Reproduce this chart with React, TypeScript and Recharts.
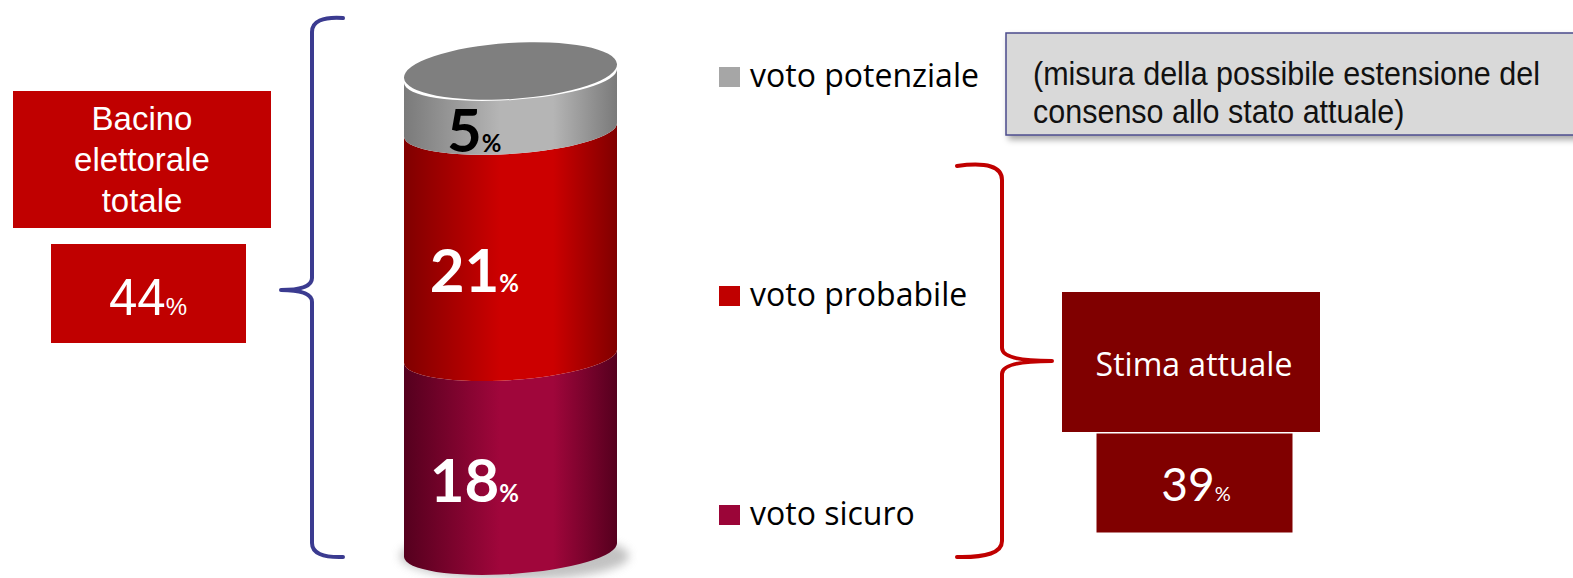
import * as React from "react";
import { Bar, BarChart, LabelList, XAxis, YAxis } from "recharts";

// valori (percentuali)
const categories = ["Bacino elettorale"];
const seriesKeys = ["sicuro", "probabile", "potenziale"];
const seriesNames = ["voto sicuro", "voto probabile", "voto potenziale"];
const sicuroValues = [18];
const probabileValues = [21];
const potenzialeValues = [5];
const bacinoTotale = 44;
const stimaAttuale = 39;
const noteLines = ["(misura della possibile estensione del", "consenso allo stato attuale)"];

const data = categories.map((name, i) => ({
    name,
    sicuro: sicuroValues[i],
    probabile: probabileValues[i],
    potenziale: potenzialeValues[i],
}));

const palette: Record<string, { edge: string; mid: string; legend: string; text: string }> = {
    sicuro: { edge: "#55001e", mid: "#a0063b", legend: "#9b0538", text: "#ffffff" },
    probabile: { edge: "#800000", mid: "#cc0000", legend: "#c00000", text: "#ffffff" },
    potenziale: { edge: "#7a7a7a", mid: "#b5b5b5", legend: "#a6a6a6", text: "#000000" },
};

const RY = 24;
const TILT = 7;
const CALIBRI = "Lato, 'Open Sans', sans-serif";
const LEGEND_FONT = "'Open Sans', 'Noto Sans', sans-serif";
const ARIAL = "'Liberation Sans', Arial, sans-serif";

/**
 * Builds a bar shape that draws one slice of a cylinder
 */
const cylinderShape = (key: string, isTop: boolean, isBottom: boolean) => (props: any) => {
    const { x, y, width, height } = props;
    const c = palette[key];
    const rx = Math.hypot(width, 2 * TILT) / 2;
    const rot = (Math.atan2(-2 * TILT, width) * 180) / Math.PI;
    const yb = y + height;
    const d =
        `M${x},${y + TILT} A${rx},${RY} ${rot} 0 0 ${x + width},${y - TILT} ` +
        `L${x + width},${yb - TILT} A${rx},${RY} ${rot} 0 1 ${x},${yb + TILT} Z`;
    const gid = `grad-${key}`;
    const cx = x + width / 2;
    return (
        <g>
            <defs>
                <linearGradient id={gid} x1="0" x2="1" y1="0" y2="0">
                    <stop offset="0%" stopColor={c.edge} />
                    <stop offset="45%" stopColor={c.mid} />
                    <stop offset="70%" stopColor={c.mid} />
                    <stop offset="100%" stopColor={c.edge} />
                </linearGradient>
                <filter id={`blur-${key}`} x="-20%" y="-100%" width="140%" height="300%">
                    <feGaussianBlur stdDeviation="5" />
                </filter>
            </defs>
            {isBottom && (
                <ellipse cx={cx + 4} cy={yb + 6} rx={width / 2 + 8} ry={RY}
                         fill="#9a9a9a" opacity={0.6} filter={`url(#blur-${key})`} />
            )}
            <path d={d} fill={`url(#${gid})`} />
            {isTop && (
                <ellipse cx={cx} cy={y - 5} rx={rx} ry={RY + 4}
                         transform={`rotate(${rot} ${cx} ${y - 5})`} fill="#7f7f7f" />
            )}
        </g>
    );
};

const segmentLabel = (key: string) => (props: any) => {
    const { x, y, width, height, value } = props;
    return (
        <text x={x + width * 0.33} y={y + height / 2 + 49} textAnchor="middle"
              fontFamily={CALIBRI} fontWeight={700} fill={palette[key].text}>
            <tspan fontSize={60}>{value}</tspan>
            <tspan fontSize={24}>%</tspan>
        </text>
    );
};

const legendY = [525, 306, 87];

export default function App() {
    return (
        <div style={{ position: "absolute", left: 0, top: 0, width: 1573, height: 578, background: "#fff" }}>
            <BarChart width={1573} height={578} data={data} barCategoryGap={0}
                      margin={{ top: 76, right: 956, left: 404, bottom: 28 }}>
                <XAxis dataKey="name" hide />
                <YAxis hide domain={[0, bacinoTotale]} />
                {seriesKeys.map((k, i) => (
                    <Bar key={k} dataKey={k} name={seriesNames[i]} stackId="a" isAnimationActive={false}
                         fill={palette[k].legend}
                         shape={cylinderShape(k, i === seriesKeys.length - 1, i === 0)}>
                        <LabelList dataKey={k} content={segmentLabel(k)} />
                    </Bar>
                ))}
            </BarChart>

            <svg width={1573} height={578} style={{ position: "absolute", left: 0, top: 0, pointerEvents: "none" }}>
                <defs>
                    <filter id="boxShadow" x="-5%" y="-10%" width="115%" height="130%">
                        <feDropShadow dx="3" dy="4" stdDeviation="3" floodColor="#000" floodOpacity="0.35" />
                    </filter>
                </defs>

                {/* riquadri a sinistra */}
                <rect x={13} y={91} width={258} height={137} fill="#c00000" />
                <text x={142} y={130} textAnchor="middle" fontFamily={ARIAL} fontSize={33} fill="#fff">
                    <tspan x={142}>Bacino</tspan>
                    <tspan x={142} dy={41}>elettorale</tspan>
                    <tspan x={142} dy={41}>totale</tspan>
                </text>
                <rect x={51} y={244} width={195} height={99} fill="#c00000" />
                <text x={148} y={315} textAnchor="middle" fontFamily={ARIAL} fill="#fff">
                    <tspan fontSize={51}>{bacinoTotale}</tspan>
                    <tspan fontSize={24}>%</tspan>
                </text>

                {/* graffa blu */}
                <path d="M343,18 Q312,16 312,32 L312,278 Q312,290 281,290 Q312,290 312,302 L312,543 Q312,558 343,557"
                      fill="none" stroke="#3b3b90" strokeWidth={4} strokeLinecap="round" strokeLinejoin="round" />

                {/* legenda */}
                {seriesKeys.map((k, i) => (
                    <g key={k}>
                        <rect x={719} y={legendY[i] - 20} width={21} height={20} fill={palette[k].legend} />
                        <text x={750} y={legendY[i]} fontFamily={LEGEND_FONT} fontSize={32} fill="#000">
                            {seriesNames[i]}
                        </text>
                    </g>
                ))}

                {/* nota grigia */}
                <rect x={1006} y={33} width={580} height={102} fill="#d9d9d9" stroke="#4b4b8c" strokeWidth={1.5}
                      filter="url(#boxShadow)" />
                <g transform="translate(1033,0) scale(0.925,1)">
                    <text fontFamily={ARIAL} fontSize={33} fill="#111">
                        <tspan x={0} y={85}>{noteLines[0]}</tspan>
                        <tspan x={0} y={123}>{noteLines[1]}</tspan>
                    </text>
                </g>

                {/* graffa rossa */}
                <path d="M957,166 Q1002,160 1002,180 L1002,348 Q1002,361 1052,361 Q1002,361 1002,374 L1002,541 Q1002,558 957,557"
                      fill="none" stroke="#c00000" strokeWidth={4} strokeLinecap="round" strokeLinejoin="round" />

                {/* stima attuale */}
                <rect x={1062} y={292} width={258} height={140} fill="#800000" />
                <text x={1194} y={376} textAnchor="middle" fontFamily={LEGEND_FONT} fontSize={32} fill="#fff">
                    Stima attuale
                </text>
                <rect x={1096} y={433} width={197} height={100} fill="#800000" stroke="#fff" strokeWidth={1} />
                <text x={1196} y={501} textAnchor="middle" fontFamily={CALIBRI} fill="#fff">
                    <tspan fontSize={46}>{stimaAttuale}</tspan>
                    <tspan fontSize={20}>%</tspan>
                </text>
            </svg>
        </div>
    );
}
